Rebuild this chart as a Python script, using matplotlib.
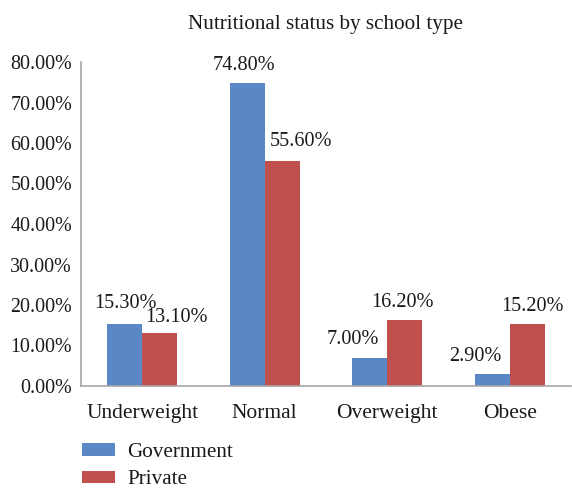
import matplotlib
matplotlib.use("Agg")
import matplotlib.pyplot as plt
import numpy as np
from matplotlib.ticker import FuncFormatter

categories = ["Underweight", "Normal", "Overweight", "Obese"]
government = [15.3, 74.8, 7.0, 2.9]
private = [13.1, 55.6, 16.2, 15.2]
series_names = ["Government", "Private"]
title = "Nutritional status by school type"

# label offsets (pixels) to mimic the original placement
gov_label_dx = [1, -3, -17, -17]
gov_label_dy = [21, 18, 18, 18]
priv_label_dx = [17, 19, -2, 5]
priv_label_dy = [15, 19, 18, 18]

plt.rcParams['font.family'] = ['Liberation Serif', 'DejaVu Serif']

blue = "#5A87C5"
red = "#C0504D"
txt = '#1a1a1a'

fig = plt.figure(figsize=(5.72, 4.88), dpi=100)
ax = fig.add_axes([81/572, (488-386)/488, (571-81)/572, (386-62)/488])

x = np.arange(len(categories))
w = 0.285
b1 = ax.bar(x - w/2, government, w, color=blue, label=series_names[0])
b2 = ax.bar(x + w/2, private, w, color=red, label=series_names[1])

for bars, vals, dxs, dys in ((b1, government, gov_label_dx, gov_label_dy),
                             (b2, private, priv_label_dx, priv_label_dy)):
    for bar, v, dx, dy in zip(bars, vals, dxs, dys):
        ax.annotate(f"{v:.2f}%", (bar.get_x() + bar.get_width()/2, v),
                    xytext=(dx, dy), textcoords='offset pixels',
                    ha='center', va='center', fontsize=14.6, color=txt)

ax.set_xlim(-0.5, len(categories) - 0.5)
ax.set_ylim(0, 80)
ax.set_yticks(np.arange(0, 81, 10))
ax.yaxis.set_major_formatter(FuncFormatter(lambda v, p: f"{v:.2f}%"))
ax.set_xticks(x)
ax.set_xticklabels(categories)
ax.tick_params(axis='both', length=0, colors=txt)
ax.tick_params(axis='y', pad=6.5, labelsize=14.4)
ax.tick_params(axis='x', pad=13, labelsize=15.5)
for s in ('top', 'right'):
    ax.spines[s].set_visible(False)
for s in ('left', 'bottom'):
    ax.spines[s].set_color('#A6A6A6')
    ax.spines[s].set_linewidth(1.2)

fig.text(326/572, 1 - 24/488, title, ha='center', va='center', fontsize=15.2, color=txt)

leg = fig.legend(loc='upper left', bbox_to_anchor=(82/572, 1 - 443/488), frameon=False,
                 fontsize=15.2, handlelength=1.56, handleheight=0.5, handletextpad=0.57,
                 labelspacing=0.4, borderaxespad=0, borderpad=0)
for t in leg.get_texts():
    t.set_color(txt)

fig.savefig("out.png", dpi=100)
